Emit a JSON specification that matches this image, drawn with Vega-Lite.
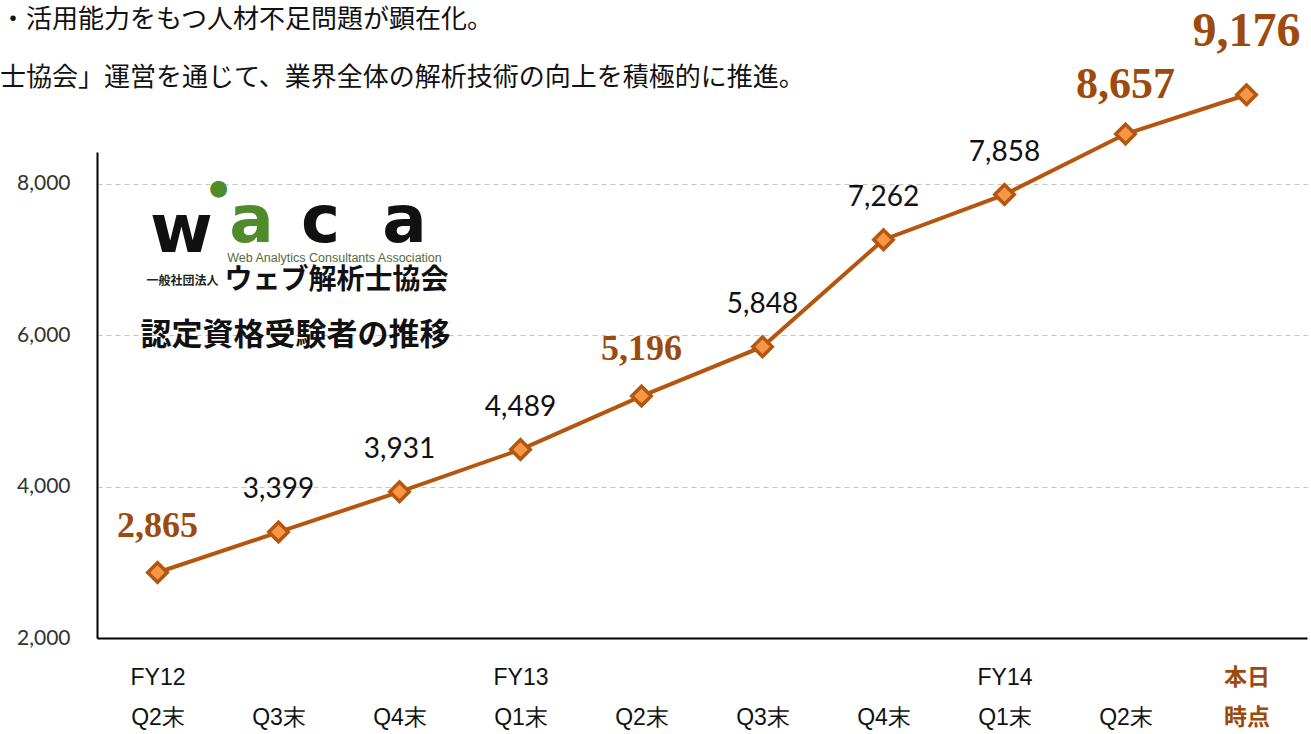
{
  "$schema": "https://vega.github.io/schema/vega-lite/v6.json",
  "width": 1210,
  "height": 486,
  "autosize": {"type": "none"},
  "padding": {"left": 97, "top": 152, "right": 4, "bottom": 96},
  "background": "white",
  "view": {"stroke": null},
  "title": {
    "text": ["・活用能力をもつ人材不足問題が顕在化。", "士協会」運営を通じて、業界全体の解析技術の向上を積極的に推進。"],
    "anchor": "start",
    "frame": "group",
    "baseline": "top",
    "dx": -97,
    "dy": 83,
    "offset": 0,
    "lineHeight": 58,
    "font": "Noto Sans CJK JP",
    "fontSize": 26,
    "fontWeight": "normal",
    "color": "#111111"
  },
  "data": {
    "values": [
      {"period": "FY12 Q2", "value": 2865},
      {"period": "FY12 Q3", "value": 3399},
      {"period": "FY12 Q4", "value": 3931},
      {"period": "FY13 Q1", "value": 4489},
      {"period": "FY13 Q2", "value": 5196},
      {"period": "FY13 Q3", "value": 5848},
      {"period": "FY13 Q4", "value": 7262},
      {"period": "FY14 Q1", "value": 7858},
      {"period": "FY14 Q2", "value": 8657},
      {"period": "本日時点", "value": 9176}
    ]
  },
  "encoding": {
    "x": {
      "field": "period",
      "type": "nominal",
      "sort": null,
      "scale": {"paddingInner": 0, "paddingOuter": 0},
      "axis": {
        "title": null,
        "grid": false,
        "ticks": false,
        "domain": true,
        "domainColor": "#000000",
        "domainWidth": 2,
        "labelAngle": 0,
        "labelPadding": 28,
        "labelLineHeight": 40,
        "labelOverlap": false,
        "labelBound": false,
        "labelFont": {"condition": {"test": "datum.value == '本日時点'", "value": "Noto Sans CJK JP"}, "value": "Liberation Sans Narrow, Liberation Sans, sans-serif"},
        "labelFontSize": 23,
        "labelFontWeight": {"condition": {"test": "datum.value == '本日時点'", "value": "bold"}, "value": "normal"},
        "labelColor": {"condition": {"test": "datum.value == '本日時点'", "value": "#9c4a0e"}, "value": "#111111"},
        "labelExpr": "datum.value == '本日時点' ? ['本日', '時点'] : [(datum.value == 'FY12 Q2' || indexof(datum.value, 'Q1') > 0) ? slice(datum.value, 0, 4) : '', slice(datum.value, 5) + '末']"
      }
    },
    "y": {
      "field": "value",
      "type": "quantitative",
      "scale": {"domain": [2000, 8420], "nice": false, "zero": false},
      "axis": {
        "title": null,
        "values": [2000, 4000, 6000, 8000],
        "format": ",d",
        "ticks": false,
        "domain": true,
        "domainColor": "#000000",
        "domainWidth": 2,
        "grid": true,
        "gridColor": "#c4c4c4",
        "gridDash": [5, 4],
        "gridWidth": 1,
        "labelPadding": 27,
        "labelFont": "Lato",
        "labelFontSize": 21,
        "labelColor": "#333333"
      }
    }
  },
  "layer": [
    {
      "mark": {"type": "line", "color": "#b5560f", "strokeWidth": 4, "clip": false}
    },
    {
      "mark": {"type": "point", "shape": "diamond", "filled": true, "fill": "#f79646", "stroke": "#b5560f", "strokeWidth": 3.5, "size": 380, "opacity": 1, "clip": false}
    },
    {
      "transform": [{"filter": "indexof(['FY12 Q2', 'FY13 Q2', 'FY14 Q2', '本日時点'], datum.period) < 0"}],
      "mark": {"type": "text", "baseline": "alphabetic", "align": "center", "dy": -34, "font": "Lato", "fontWeight": "normal", "fontSize": 28, "color": "#111111", "clip": false},
      "encoding": {"text": {"field": "value", "type": "quantitative", "format": ","}}
    },
    {
      "transform": [{"filter": "indexof(['FY12 Q2', 'FY13 Q2', 'FY14 Q2', '本日時点'], datum.period) >= 0"}],
      "mark": {
        "type": "text",
        "baseline": "alphabetic",
        "align": "center",
        "dy": {"expr": "datum.period == '本日時点' ? -49 : -36"},
        "fontSize": {"expr": "datum.period == '本日時点' ? 48 : (datum.period == 'FY14 Q2' ? 44 : 36)"},
        "font": "Liberation Serif",
        "fontWeight": "bold",
        "color": "#9c4a0e",
        "clip": false
      },
      "encoding": {"text": {"field": "value", "type": "quantitative", "format": ","}}
    },
    {
      "data": {"values": [{"t": "w", "period": "FY12 Q2", "value": 7102}]},
      "mark": {"type": "text", "align": "center", "baseline": "alphabetic", "dx": 24, "font": "DejaVu Sans", "fontWeight": "bold", "fontSize": 68, "color": "#111111"},
      "encoding": {"text": {"field": "t", "type": "nominal"}}
    },
    {
      "data": {"values": [{"t": "●", "period": "FY12 Q2", "value": 7948}]},
      "mark": {"type": "text", "align": "center", "baseline": "middle", "dx": 61, "font": "DejaVu Sans", "fontSize": 22, "color": "#4f8a2b"},
      "encoding": {"text": {"field": "t", "type": "nominal"}}
    },
    {
      "data": {"values": [{"t": "a", "period": "FY12 Q3", "value": 7235}]},
      "mark": {"type": "text", "align": "center", "baseline": "alphabetic", "dx": -27, "font": "DejaVu Sans", "fontWeight": "bold", "fontSize": 66, "color": "#4f8a2b"},
      "encoding": {"text": {"field": "t", "type": "nominal"}}
    },
    {
      "data": {"values": [{"t": "c", "period": "FY12 Q3", "value": 7235}]},
      "mark": {"type": "text", "align": "center", "baseline": "alphabetic", "dx": 42, "font": "DejaVu Sans", "fontWeight": "bold", "fontSize": 66, "color": "#111111"},
      "encoding": {"text": {"field": "t", "type": "nominal"}}
    },
    {
      "data": {"values": [{"t": "a", "period": "FY12 Q4", "value": 7235}]},
      "mark": {"type": "text", "align": "center", "baseline": "alphabetic", "dx": 5, "font": "DejaVu Sans", "fontWeight": "bold", "fontSize": 66, "color": "#111111"},
      "encoding": {"text": {"field": "t", "type": "nominal"}}
    },
    {
      "data": {"values": [{"t": "Web Analytics Consultants Association", "period": "FY12 Q3", "value": 7020}]},
      "mark": {"type": "text", "align": "center", "baseline": "middle", "dx": 56, "font": "Liberation Sans", "fontSize": 12.5, "color": "#55693f"},
      "encoding": {"text": {"field": "t", "type": "nominal"}}
    },
    {
      "data": {"values": [{"t": "一般社団法人", "period": "FY12 Q2", "value": 6719}]},
      "mark": {"type": "text", "align": "center", "baseline": "middle", "dx": 25, "font": "Noto Sans CJK JP", "fontWeight": "bold", "fontSize": 12, "color": "#222222"},
      "encoding": {"text": {"field": "t", "type": "nominal"}}
    },
    {
      "data": {"values": [{"t": "ウェブ解析士協会", "period": "FY12 Q3", "value": 6719}]},
      "mark": {"type": "text", "align": "center", "baseline": "middle", "dx": 58, "font": "Noto Sans CJK JP", "fontWeight": "bold", "fontSize": 28, "color": "#111111"},
      "encoding": {"text": {"field": "t", "type": "nominal"}}
    },
    {
      "data": {"values": [{"t": "認定資格受験者の推移", "period": "FY12 Q3", "value": 5992}]},
      "mark": {"type": "text", "align": "center", "baseline": "middle", "dx": 17, "font": "Noto Sans CJK JP", "fontWeight": "bold", "fontSize": 31, "color": "#111111"},
      "encoding": {"text": {"field": "t", "type": "nominal"}}
    }
  ]
}
